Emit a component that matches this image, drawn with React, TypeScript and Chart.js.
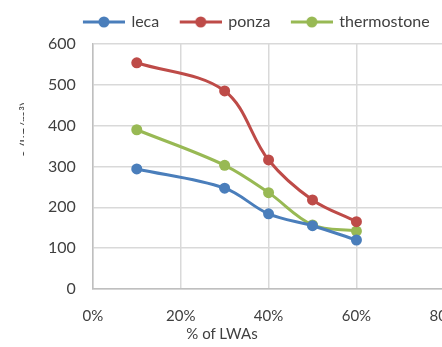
import React, { useEffect, useRef } from "react";
import { Chart, registerables } from "chart.js";

Chart.register(...registerables);

const xValues = [0.1, 0.3, 0.4, 0.5, 0.6];
const seriesNames = ["leca", "ponza", "thermostone"];
const lecaValues = [294, 247, 184, 155, 120];
const ponzaValues = [554, 485, 316, 218, 165];
const thermoValues = [390, 303, 236, 157, 142];
const seriesColors = ["#4A7EBB", "#BE4B48", "#98B954"];
const xTitle = "% of LWAs";
const yTitle = "ρ (kg/m³)";

function legendIcon(color: string): HTMLCanvasElement {
  const c = document.createElement("canvas");
  c.width = 44;
  c.height = 14;
  const ctx = c.getContext("2d")!;
  ctx.strokeStyle = color;
  ctx.lineWidth = 3;
  ctx.beginPath();
  ctx.moveTo(2, 7);
  ctx.lineTo(44, 7);
  ctx.stroke();
  ctx.fillStyle = color;
  ctx.beginPath();
  ctx.arc(23, 7, 5.5, 0, Math.PI * 2);
  ctx.fill();
  return c;
}

const legendShift = {
  id: "legendShift",
  afterLayout(chart: any) {
    const l = chart.legend;
    if (l) {
      l.left += 2;
      l.right += 2;
    }
  },
};

export default function App() {
  const ref = useRef<HTMLCanvasElement | null>(null);
  useEffect(() => {
    if (!ref.current) return;
    const all = [lecaValues, ponzaValues, thermoValues];
    const chart = new Chart(ref.current, {
      type: "line",
      data: {
        datasets: all.map((vals, i) => ({
          label: seriesNames[i],
          data: vals.map((v, j) => ({ x: xValues[j], y: v })),
          borderColor: seriesColors[i],
          backgroundColor: seriesColors[i],
          borderWidth: 3,
          pointRadius: 5.5,
          pointHoverRadius: 5.5,
          pointBorderWidth: 0,
          pointStyle: "circle",
          tension: 0.35,
          fill: false,
        })),
      },
      plugins: [legendShift],
      options: {
        animation: false,
        responsive: true,
        maintainAspectRatio: false,
        layout: { padding: { left: 31, right: 0, top: -6, bottom: 4 } },
        plugins: {
          tooltip: { enabled: false },
          subtitle: {
            display: true,
            text: "",
            weight: 500,
            font: { size: 1 },
            padding: { top: 0, bottom: 2.8 },
          } as any,
          legend: {
            position: "top",
            labels: {
              usePointStyle: true,
              pointStyleWidth: 41,
              padding: 20,
              color: "#404040",
              font: { family: "Lato", size: 16 },
              generateLabels: (ch: any) =>
                ch.data.datasets.map((ds: any, i: number) => ({
                  text: ds.label,
                  pointStyle: legendIcon(seriesColors[i]),
                  fillStyle: seriesColors[i],
                  strokeStyle: seriesColors[i],
                  lineWidth: 0,
                  datasetIndex: i,
                  fontColor: "#404040",
                })),
            },
          },
        },
        scales: {
          x: {
            type: "linear",
            min: 0,
            max: 0.8,
            ticks: {
              stepSize: 0.2,
              padding: 18,
              color: "#404040",
              font: { family: "Lato", size: 15 },
              callback: (v: any) => Math.round(Number(v) * 100) + "%",
            },
            grid: { color: "#D9D9D9", lineWidth: 1.5, drawTicks: false },
            border: { color: "#BFBFBF", width: 1.5 },
          },
          y: {
            min: 0,
            max: 600,
            ticks: {
              stepSize: 100,
              padding: 17,
              color: "#404040",
              font: { family: "Lato", size: 16 },
            },
            grid: { color: "#D9D9D9", lineWidth: 1.5, drawTicks: false },
            border: { color: "#BFBFBF", width: 1.5 },
          },
        },
      },
    });
    return () => chart.destroy();
  }, []);

  return (
    <div
      style={{
        position: "fixed",
        left: 0,
        top: 0,
        width: 442,
        height: 347,
        overflow: "hidden",
        background: "#fff",
      }}
    >
      <div style={{ position: "absolute", left: 0, top: 0, width: 477, height: 347 }}>
        <canvas ref={ref} />
      </div>
      <div
        style={{
          position: "absolute",
          left: 122,
          width: 200,
          top: 324,
          textAlign: "center",
          fontFamily: "Lato",
          fontSize: 15,
          color: "#404040",
          lineHeight: "18px",
        }}
      >
        {xTitle}
      </div>
      <div
        style={{
          position: "absolute",
          left: 16,
          top: 100,
          width: 8,
          height: 62,
          overflow: "hidden",
        }}
      >
        <div
          style={{
            position: "absolute",
            left: -26,
            top: 22,
            width: 70,
            height: 16,
            lineHeight: "16px",
            textAlign: "center",
            fontFamily: "Lato",
            fontSize: 14,
            color: "#404040",
            whiteSpace: "nowrap",
            transform: "rotate(-90deg)",
          }}
        >
          {yTitle}
        </div>
      </div>
    </div>
  );
}
